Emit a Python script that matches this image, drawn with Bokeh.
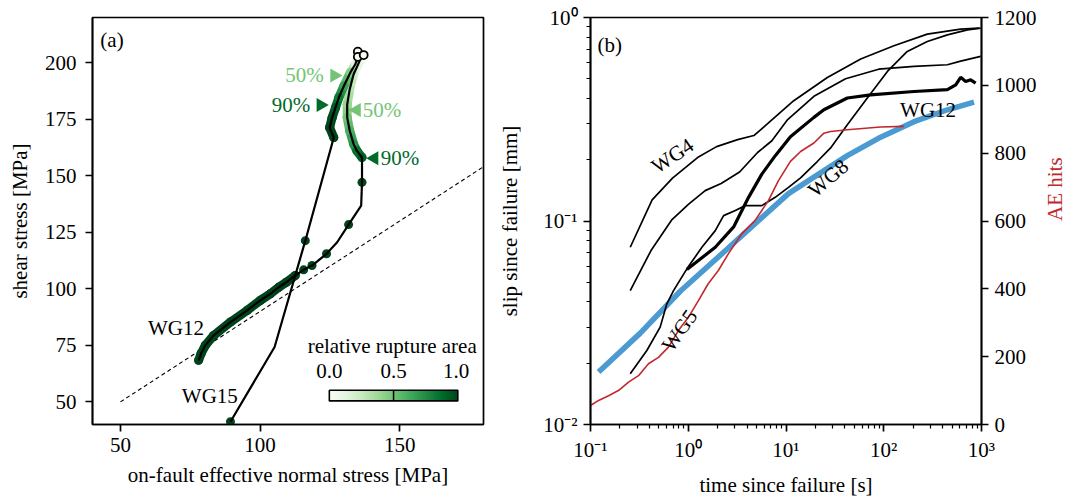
import numpy as np
from bokeh.plotting import figure
from bokeh.layouts import row
from bokeh.models import (ColumnDataSource, LinearColorMapper, FixedTicker, Label,
                          LinearAxis, Range1d, LinearScale, CustomJSTickFormatter)
from bokeh.palettes import Greens256
from bokeh.transform import linear_cmap
from bokeh.embed import file_html
from bokeh.resources import INLINE

FONT = "Liberation Serif"
FS = "21px"

# ---------------- panel (a) data ----------------
# WG12 stress path (normal stress, shear stress) from peak to end
wg12_x = [135.9, 133.5, 132.1, 131.2, 131.2, 132.1, 133.5, 134.7, 136.5, 136.5, 136.2, 131.7,
          127.6, 123.8, 118.6, 115.6, 112.6, 109.4, 106.7, 103.7, 100.1, 95.4, 89.4, 83.4,
          80.4, 78.9, 78.0]
wg12_y = [201.5, 194.9, 188.3, 181.6, 175.7, 169.9, 164.0, 161.0, 158.1, 147.1, 136.8, 128.4,
          120.6, 115.5, 110.3, 108.4, 105.9, 102.9, 100.7, 97.8, 94.9, 90.5, 85.3, 79.4,
          75.0, 71.4, 68.4]
# densely sampled parts of WG12 (relative rupture area)
wg12_band1_x = [135.9, 133.5, 132.1, 131.2, 131.2, 132.1, 133.5, 134.7, 136.5]
wg12_band1_y = [201.5, 194.9, 188.3, 181.6, 175.7, 169.9, 164.0, 161.0, 158.1]
wg12_band1_a = [0.05, 0.2, 0.3, 0.4, 0.5, 0.6, 0.72, 0.85, 0.92]
wg12_band2_x = [112.6, 109.4, 106.7, 103.7, 100.1, 95.4, 89.4, 83.4, 80.4, 78.9, 78.0]
wg12_band2_y = [105.9, 102.9, 100.7, 97.8, 94.9, 90.5, 85.3, 79.4, 75.0, 71.4, 68.4]
wg12_band2_a = [1.0] * 11
wg12_dot_x = [136.5, 131.7, 123.8, 118.6, 115.6]
wg12_dot_y = [147.1, 128.4, 115.5, 110.3, 108.4]
wg12_dot_a = [1.0, 1.0, 1.0, 1.0, 1.0]

# WG15 stress path
wg15_x = [135.0, 134.1, 132.3, 130.0, 128.2, 127.0, 125.8, 124.9, 126.4, 116.2, 105.2, 89.4]
wg15_y = [202.6, 199.3, 195.6, 189.7, 184.6, 180.1, 175.7, 171.3, 166.9, 121.3, 74.3, 41.2]
wg15_band_x = [134.1, 132.3, 130.0, 128.2, 127.0, 125.8, 124.9, 126.4]
wg15_band_y = [199.3, 195.6, 189.7, 184.6, 180.1, 175.7, 171.3, 166.9]
wg15_band_a = [0.15, 0.45, 0.65, 0.82, 0.92, 0.97, 1.0, 1.0]
wg15_dot_x = [116.2, 89.4]
wg15_dot_y = [121.3, 41.2]
wg15_dot_a = [1.0, 1.0]

# peak (zero rupture area) samples
peak_x = [135.0, 135.0, 137.1]
peak_y = [204.9, 202.6, 203.4]

# friction line
fric_x = [50, 180]
fric_y = [50, 154]

# ---------------- panel (b) data ----------------
wg4_t = [0.255, 0.427, 0.690, 1.245, 1.95, 3.20, 4.69, 6.44, 12.0, 26.5, 58.1, 127, 279, 612, 942]
wg4_s = [0.0743, 0.127, 0.1625, 0.205, 0.232, 0.251, 0.263, 0.300, 0.390, 0.507, 0.625, 0.726,
         0.829, 0.877, 0.887]

wgb_t = [0.255, 0.416, 0.682, 1.01, 1.49, 2.17, 3.35, 5.12, 7.17, 10.4, 19.3, 40.7, 88.7, 204,
         448, 612, 981]
wgb_s = [0.0455, 0.0716, 0.1016, 0.121, 0.141, 0.153, 0.174, 0.217, 0.248, 0.315, 0.410, 0.500,
         0.557, 0.575, 0.586, 0.610, 0.644]

wg12_t = [0.968, 1.89, 2.93, 4.14, 5.66, 7.77, 11.1, 19.3, 24.4, 42.4, 73.4, 204, 448, 545, 612,
          689, 775, 871]
wg12_s = [0.0577, 0.0743, 0.0939, 0.1307, 0.170, 0.2094, 0.2597, 0.323, 0.352, 0.402, 0.417,
          0.433, 0.442, 0.467, 0.508, 0.485, 0.494, 0.476]

wg58_t = [0.255, 0.377, 0.516, 0.604, 0.707, 0.968, 1.38, 1.89, 2.30, 3.03, 3.83, 5.66, 7.76,
          10.6, 14.1, 20.9, 28.6, 42.4, 67.9, 109, 174, 279, 448, 718, 981]
wg58_s = [0.01775, 0.0231, 0.0301, 0.0392, 0.0455, 0.0582, 0.0743, 0.0897, 0.1063, 0.1125, 0.119,
          0.119, 0.1307, 0.1463, 0.163, 0.196, 0.2285, 0.297, 0.402, 0.543, 0.681, 0.762, 0.822,
          0.870, 0.887]

fit_t = [0.121, 0.325, 0.833, 2.47, 5.50, 10.6, 19.3, 42.4, 92.9, 204, 448, 838]
fit_s = [0.0181, 0.0282, 0.0453, 0.0724, 0.1027, 0.1363, 0.1642, 0.2094, 0.2582, 0.3076, 0.352,
         0.3843]

ae_t = [0.1, 0.121, 0.153, 0.193, 0.245, 0.310, 0.392, 0.496, 0.627, 0.793, 1.003, 1.27, 1.60,
        2.03, 2.57, 3.52, 4.81, 6.61, 8.37, 11.1, 14.1, 19.3, 24.4, 28.6, 42.4, 92.9, 160]
ae_n = [56, 71, 85, 100, 125, 144, 179, 198, 228, 277, 316, 365, 415, 454, 503, 562, 601, 660,
        719, 776, 805, 830, 859, 864, 869, 877, 879]

x_ticks_a = [50, 100, 150]
y_ticks_a = [50, 75, 100, 125, 150, 175, 200]
cbar_ticks = [0.0, 0.5, 1.0]
cbar_labels = ["0.0", "0.5", "1.0"]
ae_ticks = [0, 200, 400, 600, 800, 1000, 1200]

palette = list(reversed(Greens256))
LIGHT = "#74c476"
DARK = "#006a2b"
RED = "#c0282d"


def style_axes(p):
    for ax in list(p.xaxis) + list(p.yaxis):
        ax.axis_line_width = 1.7
        ax.major_tick_line_width = 1.7
        ax.minor_tick_line_width = 1.2
        ax.major_tick_in = 0
        ax.major_tick_out = 7
        ax.minor_tick_in = 0
        ax.minor_tick_out = 4
        ax.major_label_text_font = FONT
        ax.major_label_text_font_size = FS
        ax.major_label_text_color = "black"
        ax.axis_label_text_font = FONT
        ax.axis_label_text_font_size = FS
        ax.axis_label_text_font_style = "normal"
        ax.axis_label_text_color = "black"
        ax.major_label_standoff = 6


def txt(p, x, y, s, align="center", color="black", angle=0.0, baseline="middle", **kw):
    p.add_layout(Label(x=x, y=y, text=s, text_align=align, text_baseline=baseline,
                       text_font=FONT, text_font_size=FS, text_color=color, angle=angle, **kw))


# ---------------- panel (a) ----------------
p1 = figure(frame_width=391, frame_height=407, x_range=(40, 180), y_range=(40, 220),
            output_backend="svg", toolbar_location=None,
            min_border_left=92, min_border_right=9, min_border_top=17, min_border_bottom=70)
p1.grid.visible = False
p1.outline_line_color = "black"
p1.outline_line_width = 1.7
p1.xaxis.ticker = FixedTicker(ticks=x_ticks_a)
p1.yaxis.ticker = FixedTicker(ticks=y_ticks_a)
p1.xaxis.axis_label = "on-fault effective normal stress [MPa]"
p1.yaxis.axis_label = "shear stress [MPa]"
style_axes(p1)
p1.yaxis.major_label_standoff = 9
p1.xaxis.axis_label_standoff = 8
p1.yaxis.axis_label_standoff = 10

p1.line(fric_x, fric_y, line_color="black", line_width=1.1, line_dash="4 3")

cmap = linear_cmap("a", palette, 0, 1)


def band(p, bx, by, ba):
    src = ColumnDataSource(dict(x0=bx[:-1], y0=by[:-1], x1=bx[1:], y1=by[1:],
                                a=[(ba[i] + ba[i + 1]) / 2 for i in range(len(ba) - 1)]))
    p.segment("x0", "y0", "x1", "y1", source=src, line_color=cmap, line_width=9, line_cap="round")
    src2 = ColumnDataSource(dict(x=bx, y=by, a=ba))
    p.scatter("x", "y", source=src2, size=9, fill_color=cmap, line_color=None)


band(p1, wg12_band1_x, wg12_band1_y, wg12_band1_a)
band(p1, wg12_band2_x, wg12_band2_y, wg12_band2_a)
band(p1, wg15_band_x, wg15_band_y, wg15_band_a)
p1.scatter("x", "y", source=ColumnDataSource(dict(x=wg12_dot_x, y=wg12_dot_y, a=wg12_dot_a)),
           size=9, fill_color=cmap, line_color=None)
p1.scatter("x", "y", source=ColumnDataSource(dict(x=wg15_dot_x, y=wg15_dot_y, a=wg15_dot_a)),
           size=9, fill_color=cmap, line_color=None)

p1.line(wg12_x, wg12_y, line_color="black", line_width=2.2)
p1.line(wg15_x, wg15_y, line_color="black", line_width=2.2)
p1.scatter(peak_x, peak_y, size=8, fill_color=palette[0], line_color="black", line_width=1.8)

# percentage markers
p1.scatter([126.6], [194.3], marker="triangle", size=14, angle=-np.pi / 2,
           fill_color=LIGHT, line_color=None)
p1.scatter([121.7], [181.3], marker="triangle", size=14, angle=-np.pi / 2,
           fill_color=DARK, line_color=None)
p1.scatter([134.6], [179.1], marker="triangle", size=14, angle=np.pi / 2,
           fill_color=LIGHT, line_color=None)
p1.scatter([140.9], [157.7], marker="triangle", size=14, angle=np.pi / 2,
           fill_color=DARK, line_color=None)

txt(p1, 122.8, 194.4, "50%", align="right", color=LIGHT)
txt(p1, 118.0, 181.3, "90%", align="right", color=DARK)
txt(p1, 136.8, 179.1, "50%", align="left", color=LIGHT)
txt(p1, 143.2, 157.7, "90%", align="left", color=DARK)
txt(p1, 69.9, 82.7, "WG12")
txt(p1, 82.0, 52.7, "WG15")
txt(p1, 42.8, 215.5, "(a)", align="left", baseline="top")

# colour bar (relative rupture area)
mapper = LinearColorMapper(palette=palette, low=0, high=1)
grad = np.linspace(0, 1, 256).reshape(1, -1)
p1.image(image=[grad], x=124.8, y=50.44, dw=46.0, dh=4.72, color_mapper=mapper)
p1.quad(left=[124.8], right=[170.8], bottom=[50.44], top=[55.16], fill_color=None,
        line_color="black", line_width=1.6)
p1.segment(x0=[147.8], y0=[50.44], x1=[147.8], y1=[55.16], line_color="black", line_width=1.5)
txt(p1, 147.3, 74.6, "relative rupture area")
for tl, tx in zip(cbar_labels, [124.8, 147.8, 170.2]):
    txt(p1, tx, 63.6, tl)

# ---------------- panel (b) ----------------
p2 = figure(frame_width=391, frame_height=407, x_axis_type="log", y_axis_type="log",
            x_range=(0.1, 1000), y_range=(0.01, 1), output_backend="svg",
            toolbar_location=None, min_border_left=98, min_border_right=95,
            min_border_top=17, min_border_bottom=70)
p2.grid.visible = False
p2.outline_line_color = "black"
p2.outline_line_width = 1.7
p2.extra_y_ranges = {"ae": Range1d(0, 1200)}
p2.extra_y_scales = {"ae": LinearScale()}
ax_r = LinearAxis(y_range_name="ae", ticker=FixedTicker(ticks=ae_ticks), axis_label="AE hits")
p2.add_layout(ax_r, "right")

sup = CustomJSTickFormatter(code="""
const m = {'-':'\u207b','0':'\u2070','1':'\u00b9','2':'\u00b2','3':'\u00b3','4':'\u2074',
           '5':'\u2075','6':'\u2076','7':'\u2077','8':'\u2078','9':'\u2079'};
const e = Math.round(Math.log10(tick));
return '10' + String(e).split('').map(c => m[c]).join('');
""")
xminor = [m * 10.0 ** e for e in range(-1, 3) for m in range(2, 10)]
yminor = [m * 10.0 ** e for e in range(-2, 0) for m in range(2, 10)]
p2.xaxis.ticker = FixedTicker(ticks=[0.1, 1, 10, 100, 1000], minor_ticks=xminor)
p2.yaxis[0].ticker = FixedTicker(ticks=[0.01, 0.1, 1], minor_ticks=yminor)
p2.xaxis.formatter = sup
p2.yaxis[0].formatter = sup
p2.xaxis.axis_label = "time since failure [s]"
p2.yaxis[0].axis_label = "slip since failure [mm]"
style_axes(p2)
p2.xaxis.axis_label_standoff = 8
p2.yaxis[0].axis_label_standoff = 18
ax_r.axis_label_text_color = RED
ax_r.axis_label_standoff = 15
try:
    ax_r.axis_label_orientation = np.pi / 2
except Exception:
    pass

p2.line(fit_t, fit_s, line_color="#4b9bd2", line_width=5.5)
p2.line(wg4_t, wg4_s, line_color="black", line_width=1.7)
p2.line(wgb_t, wgb_s, line_color="black", line_width=1.7)
p2.line(wg58_t, wg58_s, line_color="black", line_width=1.7)
p2.line(wg12_t, wg12_s, line_color="black", line_width=3.2)
p2.line(ae_t, ae_n, y_range_name="ae", line_color=RED, line_width=1.6)

txt(p2, 0.690, 0.2094, "WG4", angle=np.radians(34))
txt(p2, 0.815, 0.029, "WG5", angle=np.radians(55))
txt(p2, 27.0, 0.1624, "WG8", angle=np.radians(41))
txt(p2, 284, 0.352, "WG12")
txt(p2, 0.118, 0.84, "(b)", align="left", baseline="top")

layout = row(p1, p2)
open("out.html", "w").write(file_html(layout, INLINE))
